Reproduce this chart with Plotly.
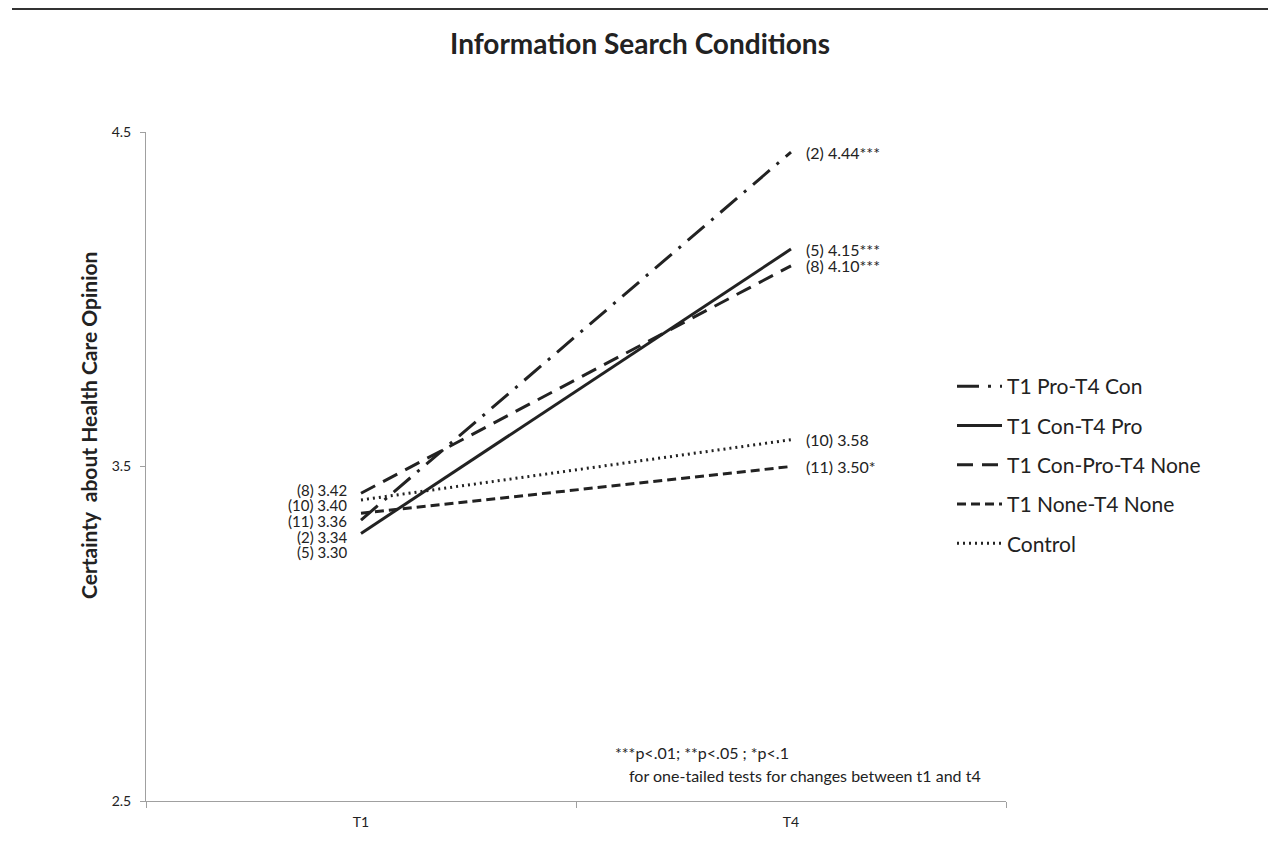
import plotly.graph_objects as go

# page body has an 8px margin, so the figure is drawn 8px in from the top-left
OFF = 8
W, H = 1277, 836
ML, MR, MT, MB = 138, 279, 124, 43

times = ["T1", "T4"]
groups = ["T1 Pro-T4 Con", "T1 Con-T4 Pro", "T1 Con-Pro-T4 None", "T1 None-T4 None", "Control"]
t1_vals = [3.34, 3.30, 3.42, 3.36, 3.40]
t4_vals = [4.44, 4.15, 4.10, 3.50, 3.58]
n_vals = [2, 5, 8, 11, 10]
t4_sig = ["***", "***", "***", "*", ""]

DASH = ["22px,9px,3px,9px", "solid", "16px,9px", "9px,5px", "2px,4px"]
FONT = "Lato, Open Sans, sans-serif"
INK = "#222222"
AXIS = "#a0a0a0"


def px_x(px):
    return (px - OFF - ML) / (W - ML - MR)


def px_y(py):
    return (H - MB - (py - OFF)) / (H - MT - MB)


fig = go.Figure()
for i, g in enumerate(groups):
    fig.add_trace(go.Scatter(
        x=times, y=[t1_vals[i], t4_vals[i]], name=g, mode="lines",
        legendgroup=g,
        line=dict(color=INK, width=3, dash=DASH[i]),
    ))

ann = []
# right end labels
for i in range(len(groups)):
    ann.append(dict(x="T4", y=t4_vals[i], xref="x", yref="y",
                    text=f"({n_vals[i]}) {t4_vals[i]:.2f}{t4_sig[i]}",
                    showarrow=False, xanchor="left", yanchor="middle", xshift=13,
                    font=dict(size=16, color=INK, family=FONT)))
# left labels, stacked in value order
order = sorted(range(len(groups)), key=lambda k: -t1_vals[k])
for rank, i in enumerate(order):
    ann.append(dict(x="T1", y=px_y(490 + 15.5 * rank), xref="x", yref="paper",
                    text=f"({n_vals[i]}) {t1_vals[i]:.2f}",
                    showarrow=False, xanchor="right", yanchor="middle", xshift=-12,
                    font=dict(size=15, color=INK, family=FONT)))
# note
ann.append(dict(x=px_x(613), y=px_y(752), xref="paper", yref="paper",
                text="***p<.01; **p<.05 ; *p<.1", showarrow=False,
                xanchor="left", yanchor="middle",
                font=dict(size=16, color=INK, family=FONT)))
ann.append(dict(x=px_x(627), y=px_y(775), xref="paper", yref="paper",
                text="for one-tailed tests for changes between t1 and t4", showarrow=False,
                xanchor="left", yanchor="middle",
                font=dict(size=16, color=INK, family=FONT)))
# y title
ann.append(dict(x=px_x(88), y=px_y(426), xref="paper", yref="paper",
                text="<b>Certainty  about Health Care Opinion</b>", showarrow=False,
                textangle=-90, xanchor="center", yanchor="middle",
                font=dict(size=21, color=INK, family=FONT)))

shapes = [
    dict(type="line", xref="paper", yref="paper", x0=px_x(12), x1=px_x(1268),
         y0=px_y(9), y1=px_y(9), line=dict(color="#333333", width=2)),
    dict(type="line", xref="paper", yref="paper", x0=px_x(1283), x1=px_x(1283),
         y0=px_y(OFF), y1=px_y(H + OFF), line=dict(color="#444444", width=2)),
]

fig.update_layout(
    width=W, height=H,
    margin=dict(l=ML, r=MR, t=MT, b=MB),
    paper_bgcolor="white", plot_bgcolor="white",
    font=dict(family=FONT, color=INK, size=14),
    title=dict(text="<b>Information Search Conditions</b>", x=(640 - OFF) / W, xref="container",
               y=1 - (44 - OFF) / H, yref="container", xanchor="center", yanchor="middle",
               font=dict(size=28, color=INK, family=FONT)),
    xaxis=dict(type="category", range=[-0.5, 1.5], tickson="boundaries",
               ticks="outside", ticklen=6, tickcolor=AXIS, showline=True,
               linecolor=AXIS, linewidth=1, showgrid=False, zeroline=False,
               ticklabelstandoff=8, tickfont=dict(size=14, color=INK)),
    yaxis=dict(range=[2.5, 4.5], tickvals=[2.5, 3.5, 4.5], ticktext=["2.5", "3.5", "4.5"],
               ticks="outside", ticklen=5, tickcolor=AXIS, showline=True,
               linecolor=AXIS, linewidth=1, showgrid=False, zeroline=False,
               ticklabelstandoff=6, tickfont=dict(size=14, color=INK)),
    legend=dict(x=px_x(952), y=px_y(366), xanchor="left", yanchor="top",
                font=dict(size=21, color=INK, family=FONT), itemwidth=45,
                tracegroupgap=9, bgcolor="rgba(0,0,0,0)"),
    annotations=ann,
    shapes=shapes,
)

fig.write_html("out.html")
